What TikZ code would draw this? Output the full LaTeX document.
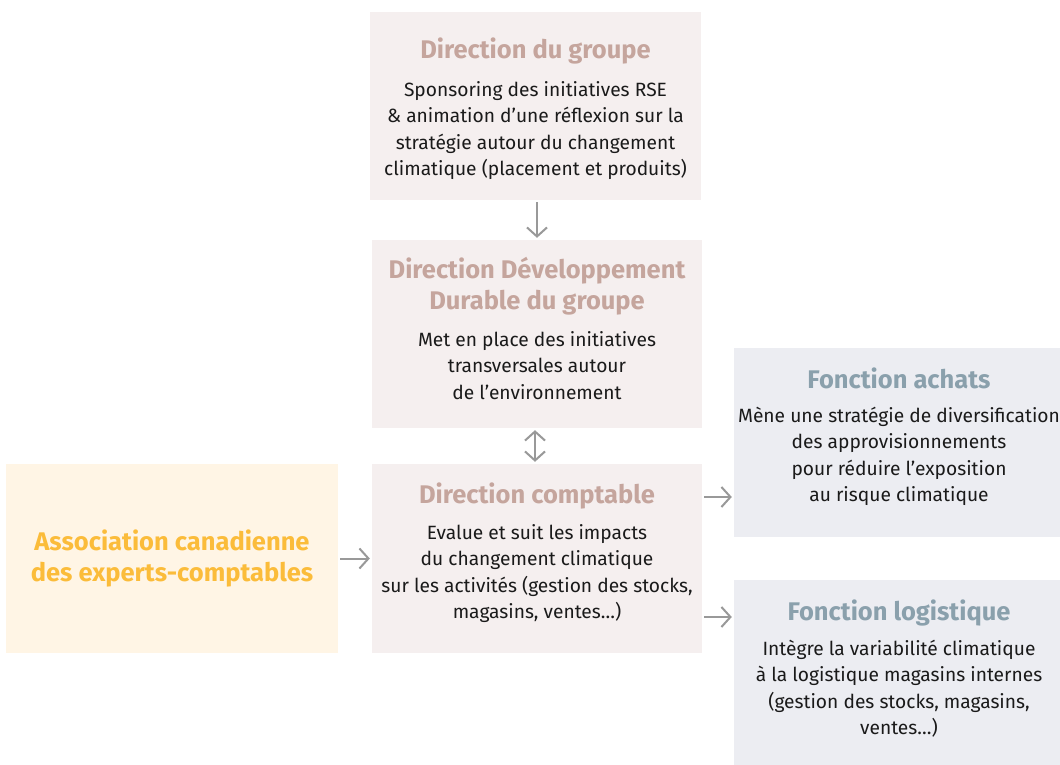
\documentclass[tikz,border=0pt]{standalone}
\usepackage{fontspec}
\setmainfont{Fira Sans}
\usetikzlibrary{arrows.meta}
\definecolor{pinkfill}{HTML}{F5EFEF}
\definecolor{pinktitle}{HTML}{C5A59D}
\definecolor{bluefill}{HTML}{ECEDF2}
\definecolor{bluetitle}{HTML}{8AA0AC}
\definecolor{yelfill}{HTML}{FFF5E5}
\definecolor{yeltext}{HTML}{FBBC3A}
\definecolor{arrgray}{HTML}{999999}
\definecolor{bodytext}{HTML}{1A1A1A}
\begin{document}
\begin{tikzpicture}[x=1pt,y=-1pt,
  boxbase/.style={rectangle,draw=none,inner sep=0pt},
  pbox/.style={boxbase,fill=pinkfill},
  bbox/.style={boxbase,fill=bluefill},
  ybox/.style={boxbase,fill=yelfill},
  ttl/.style={font=\bfseries\fontsize{25.5}{31}\selectfont,align=center,anchor=base,inner sep=0pt},
  ttlP/.style={ttl,text=pinktitle},
  ttlB/.style={ttl,text=bluetitle},
  ttlY/.style={ttl,text=yeltext},
  body/.style={font=\fontsize{19.2}{26.5}\selectfont,text=bodytext,align=center,anchor=base,inner sep=0pt},
  arr/.style={draw=arrgray,line width=2pt,-{Straight Barb[length=9pt,width=20pt]},shorten <=2pt,shorten >=2pt},
  darr/.style={arr,{Straight Barb[length=9pt,width=20pt]}-{Straight Barb[length=9pt,width=20pt]}}
]
\useasboundingbox (0,0) rectangle (1060,765);
\fill[white] (0,0) rectangle (1060,765);

% boxes
\node[pbox,minimum width=331pt,minimum height=188pt] (grp) at (535.5,106) {};
\node[pbox,minimum width=330pt,minimum height=188pt] (dd) at (537,334) {};
\node[pbox,minimum width=330pt,minimum height=189pt] (comp) at (537,558.5) {};
\node[bbox,minimum width=326pt,minimum height=189pt] (ach) at (897,442.5) {};
\node[bbox,minimum width=326pt,minimum height=185pt] (log) at (897,672.5) {};
\node[ybox,minimum width=332pt,minimum height=189pt] (assoc) at (172,558.5) {};

% texts (anchor = baseline of the last line)
\node[ttlP] (grpT) at (535.5,59) {Direction du groupe};
\node[body] (grpB) at (535.5,175.5) {Sponsoring des initiatives RSE\\ \& animation d’une réflexion sur la\\ stratégie autour du changement\\ climatique (placement et produits)};

\node[ttlP] (ddT) at (537,309) {Direction Développement\\ Durable du groupe};
\node[body] (ddB) at (537,399) {Met en place des initiatives\\ transversales autour\\ de l’environnement};

\node[ttlP] (compT) at (537,503) {Direction comptable};
\node[body] (compB) at (537,618.5) {Evalue et suit les impacts\\ du changement climatique\\ sur les activités (gestion des stocks,\\ magasins, ventes…)};

\node[ttlB] (achT) at (899,388) {Fonction achats};
\node[body] (achB) at (899,501.5) {Mène une stratégie de diversification\\ des approvisionnements\\ pour réduire l’exposition\\ au risque climatique};

\node[ttlB] (logT) at (899,620) {Fonction logistique};
\node[body] (logB) at (899,734.5) {Intègre la variabilité climatique\\ à la logistique magasins internes\\ (gestion des stocks, magasins,\\ ventes…)};

\node[ttlY] (assocT) at (172,581) {Association canadienne\\ des experts-comptables};

% connectors
\coordinate (g1) at ([xshift=1.5pt]grp.south);
\draw[arr] (g1) -- (g1 |- dd.north);
\coordinate (d1) at ([xshift=-2pt]dd.south);
\draw[darr] (d1) -- (d1 |- comp.north);
\draw[arr] (assoc.east) -- (comp.west);
\coordinate (c1) at ([yshift=61.5pt]comp.east);
\draw[arr] (c1) -- (c1 -| ach.west);
\coordinate (c2) at ([yshift=-58.5pt]comp.east);
\draw[arr] (c2) -- (c2 -| log.west);
\end{tikzpicture}
\end{document}
